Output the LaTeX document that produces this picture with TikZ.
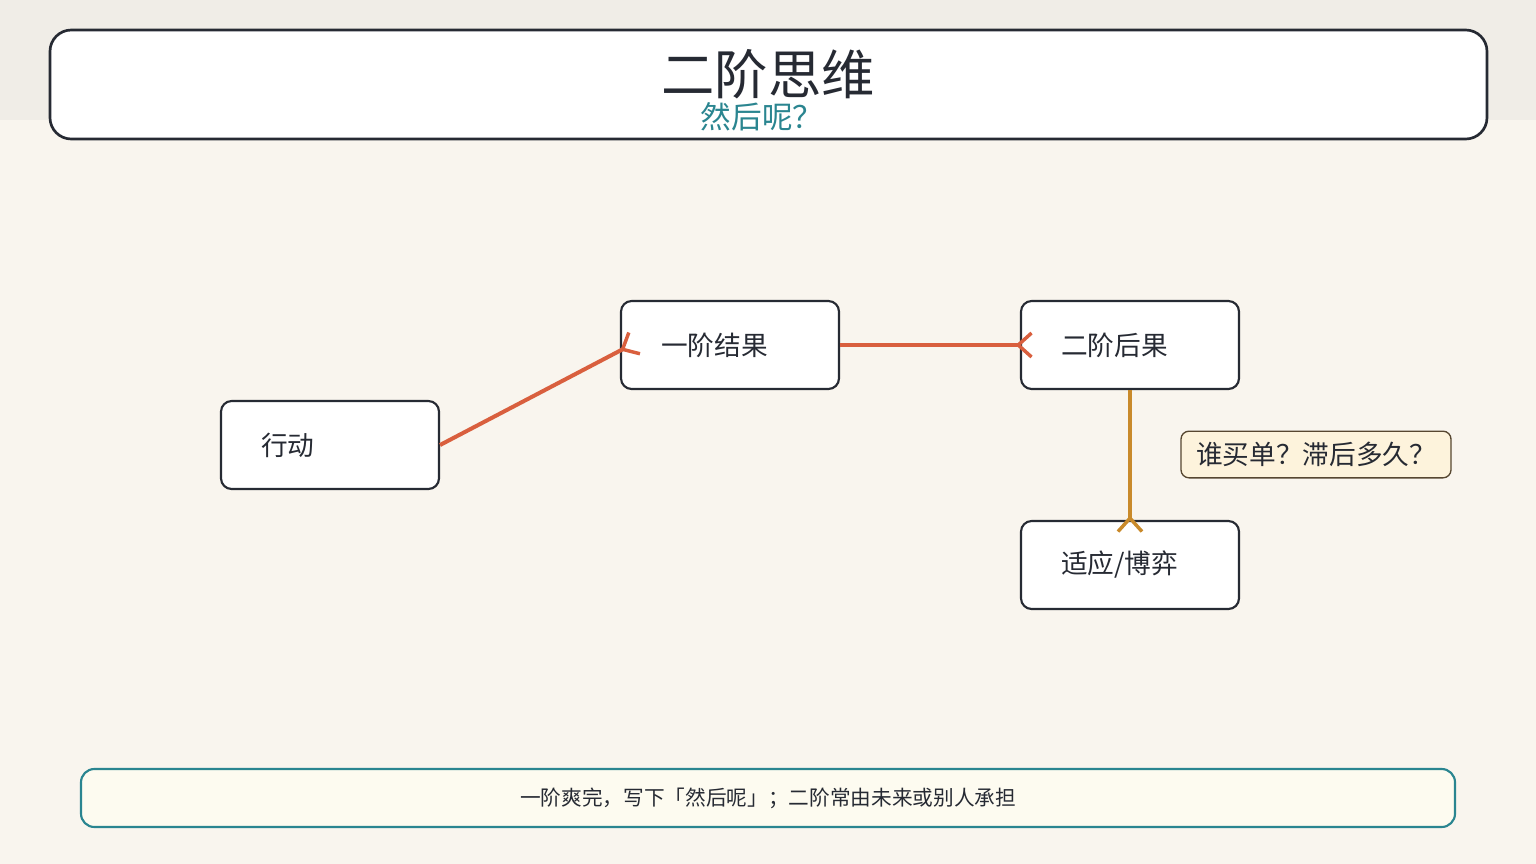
\documentclass[tikz,border=0pt]{standalone}
\usepackage{fontspec}
\setmainfont{Noto Sans CJK SC}
\usetikzlibrary{arrows.meta}
\definecolor{bg}{HTML}{F9F5EE}
\definecolor{ink}{HTML}{262A33}
\definecolor{teal}{HTML}{2A8590}
\definecolor{red}{HTML}{D95F3E}
\definecolor{gold}{HTML}{C98A2B}
\definecolor{note}{HTML}{FDF3DC}
\definecolor{foot}{HTML}{FDFBF0}
\begin{document}
\begin{tikzpicture}[x=0.75pt,y=-0.75pt,
  box/.style={draw=ink,line width=1.6pt,fill=white,rounded corners=8pt,minimum width=163.5pt,minimum height=66pt,text width=103.5pt,align=left,font=\fontsize{20}{22}\selectfont,text=ink,inner xsep=30pt,inner ysep=0pt},
  link/.style={line width=3pt,-{Straight Barb[reversed,length=10pt,width=18pt,line width=2.6pt]}}]
\fill[bg] (0,0) rectangle (1536,864);
\fill[ink!4!bg] (0,0) rectangle (1536,120);
\useasboundingbox (0,0) rectangle (1536,864);
\node[draw=ink,line width=2pt,fill=white,rounded corners=16pt,minimum width=1077.75pt,minimum height=81.75pt,inner sep=0pt] (head) at (768.5,84.5) {};
\node[font=\fontsize{40}{42}\selectfont,text=ink] (title) at (768,74) {二阶思维};
\node[font=\fontsize{23}{26}\selectfont,text=teal] (sub) at (762,117) {然后呢？};
\node[box] (a) at (330,445) {行动};
\node[box] (b) at (730,345) {一阶结果};
\node[box] (c) at (1130,345) {二阶后果};
\node[box] (d) at (1130,565) {适应/博弈};
\node[draw=ink!70!gold,line width=1pt,fill=note,rounded corners=6pt,minimum width=202.5pt,minimum height=35pt,inner sep=0pt,font=\fontsize{20}{22}\selectfont,text=ink] (n) at (1316,454.5) {谁买单？滞后多久？};
\node[draw=teal,line width=1.6pt,fill=foot,rounded corners=10pt,minimum width=1030.5pt,minimum height=43.5pt,inner sep=0pt,font=\fontsize{15.5}{18}\selectfont,text=ink] (f) at (768,798) {一阶爽完，写下「然后呢」；二阶常由未来或别人承担};
\draw[link,red] (a.east) -- ([xshift=12pt,yshift=2pt]b.west);
\draw[link,red] (b.east) -- ([xshift=10pt]c.west);
\draw[link,gold] (c.south) -- ([yshift=-10pt]d.north);
\end{tikzpicture}
\end{document}
